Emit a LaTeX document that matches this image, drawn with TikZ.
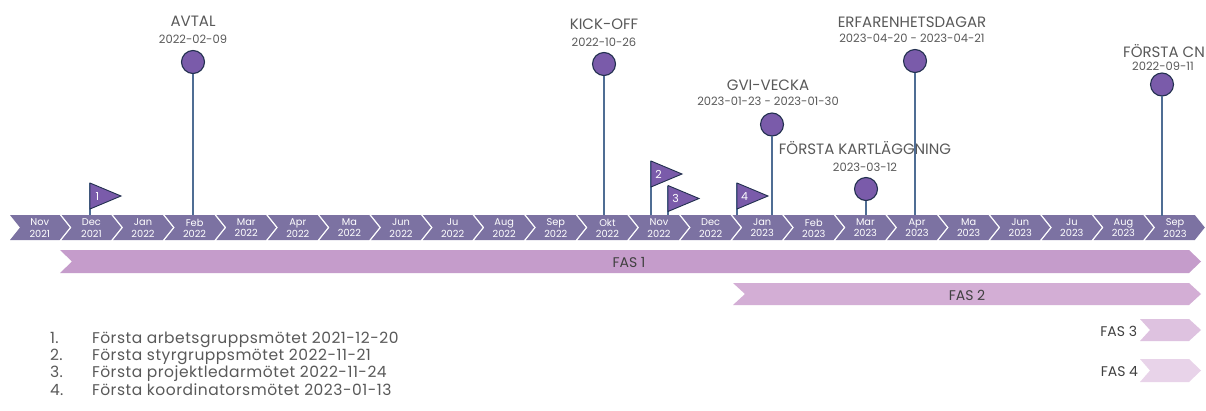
\documentclass[tikz,border=0pt]{standalone}
\usepackage{fontspec}
\setmainfont{Poppins}
\newfontfamily\legfont[LetterSpace=3.3]{Poppins}
\definecolor{chev}{HTML}{7C72A2}
\definecolor{ph1}{HTML}{C59CCB}
\definecolor{ph2}{HTML}{D3AED5}
\definecolor{ph3}{HTML}{DEC2E0}
\definecolor{ph4}{HTML}{E8D3E9}
\definecolor{dotfill}{HTML}{7A5BAA}
\definecolor{dotline}{HTML}{22304F}
\definecolor{stemc}{HTML}{4F6D94}
\definecolor{txt}{HTML}{595959}
\definecolor{phtxt}{HTML}{404040}
\begin{document}
\begin{tikzpicture}[x=1pt,y=-1pt,
  every node/.style={inner sep=0pt,outer sep=0pt},
  monthtxt/.style={text=white,align=center,font=\fontsize{9.8}{11.2}\selectfont},
  mcirc/.style={circle,fill=dotfill,draw=dotline,line width=1.1pt,minimum size=23pt},
  mtitle/.style={anchor=base,text=txt,font=\fontsize{15}{17}\selectfont},
  mdate/.style={anchor=base,text=txt,font=\fontsize{11.5}{13}\selectfont},
  stem/.style={draw=stemc,line width=1.6pt},
  flagshape/.style={fill=dotfill,draw=dotline,line width=0.9pt,line join=miter},
  flagtxt/.style={text=white,font=\fontsize{11}{12}\selectfont},
  phtext/.style={text=phtxt,font=\fontsize{14}{16}\selectfont},
  legtxt/.style={anchor=base west,text=txt,font=\legfont\fontsize{15.5}{17}\selectfont}]
\useasboundingbox (0,0) rectangle (1206,410);
\fill[white] (0,0) rectangle (1206,410);

% timeline chevrons
\foreach \mo/\yr [count=\i from 0] in {Nov/2021,Dec/2021,Jan/2022,Feb/2022,Mar/2022,Apr/2022,Ma/2022,Jun/2022,Ju/2022,Aug/2022,Sep/2022,Okt/2022,Nov/2022,Dec/2022,Jan/2023,Feb/2023,Mar/2023,Apr/2023,Ma/2023,Jun/2023,Ju/2023,Aug/2023,Sep/2023}{
  \pgfmathsetmacro\xo{10+\i*51.6}
  \fill[chev] (\xo,215) -- ++(49.6,0) -- ++(10,12.5) -- ++(-10,12.5) -- ++(-49.6,0) -- ++(10,-12.5) -- cycle;
  \node[monthtxt] (m\i) at (\xo+29.8,228) {\mo\\\yr};
}

% phases
\fill[ph1] (60,250) -- (1189,250) -- (1201,261.5) -- (1189,273) -- (60,273) -- (72,261.5) -- cycle;
\node[phtext] (fas1) at (629,262.5) {FAS 1};
\fill[ph2] (733,283) -- (1189,283) -- (1201,294) -- (1189,305) -- (733,305) -- (745,294) -- cycle;
\node[phtext] (fas2) at (967,295) {FAS 2};
\fill[ph3] (1140,319) -- (1189,319) -- (1201,330) -- (1189,341) -- (1140,341) -- (1150,330) -- cycle;
\node[phtext,anchor=east] (fas3) at (1137,331) {FAS 3};
\fill[ph4] (1140,359) -- (1189,359) -- (1201,370.5) -- (1189,382) -- (1140,382) -- (1150,370.5) -- cycle;
\node[phtext,anchor=east] (fas4) at (1138,371.5) {FAS 4};

% milestones
\coordinate (avtalB) at (193,215);
\node[mcirc] (avtal) at (193,62) {};
\draw[stem] (avtal) -- (avtalB);
\node[mtitle] (avtalT) at (193,26) {AVTAL};
\node[mdate] (avtalD) at (193,43) {2022-02-09};

\coordinate (kickB) at (604,215);
\node[mcirc] (kick) at (604,64) {};
\draw[stem] (kick) -- (kickB);
\node[mtitle] (kickT) at (604,29) {KICK-OFF};
\node[mdate] (kickD) at (604,46) {2022-10-26};

\coordinate (gviB) at (772,215);
\node[mcirc] (gvi) at (772,124.5) {};
\draw[stem] (gvi) -- (gviB);
\node[mtitle] (gviT) at (768,90) {GVI-VECKA};
\node[mdate] (gviD) at (768,105.5) {2023-01-23 - 2023-01-30};

\coordinate (kartB) at (866,215);
\node[mcirc] (kart) at (866,189) {};
\draw[stem] (kart) -- (kartB);
\node[mtitle] (kartT) at (865,154) {FÖRSTA KARTLÄGGNING};
\node[mdate] (kartD) at (865,171) {2023-03-12};

\coordinate (erfB) at (915,215);
\node[mcirc] (erf) at (915,61) {};
\draw[stem] (erf) -- (erfB);
\node[mtitle] (erfT) at (912,27) {ERFARENHETSDAGAR};
\node[mdate] (erfD) at (912,42) {2023-04-20 - 2023-04-21};

\coordinate (cnB) at (1162,216);
\node[mcirc] (cn) at (1162,84.5) {};
\draw[stem] (cn) -- (cnB);
\node[mtitle] (cnT) at (1164,57) {FÖRSTA CN};
\node[mdate] (cnD) at (1163,70) {2022-09-11};

% flags
\foreach \n/\fx/\fy/\fb in {1/90/183/215, 2/651/161/215, 3/668/185.5/215, 4/737/183/215}{
  \coordinate (pole\n) at (\fx,\fb);
  \coordinate (ftop\n) at (\fx,\fy);
  \draw[stem] (ftop\n) -- (pole\n);
  \draw[flagshape] (ftop\n) -- ++(31,13) -- ++(-31,13) -- cycle;
  \node[flagtxt] (flag\n) at (\fx+7.5,\fy+13.3) {\n};
}

% legend
\foreach \n/\t/\yy in {1/Första arbetsgruppsmötet 2021-12-20/343, 2/Första styrgruppsmötet 2022-11-21/360.5, 3/Första projektledarmötet 2022-11-24/377.5, 4/Första koordinatorsmötet 2023-01-13/395}{
  \node[legtxt] (ln\n) at (50,\yy) {\n.};
  \node[legtxt] (lt\n) at (92,\yy) {\t};
}
\end{tikzpicture}
\end{document}
